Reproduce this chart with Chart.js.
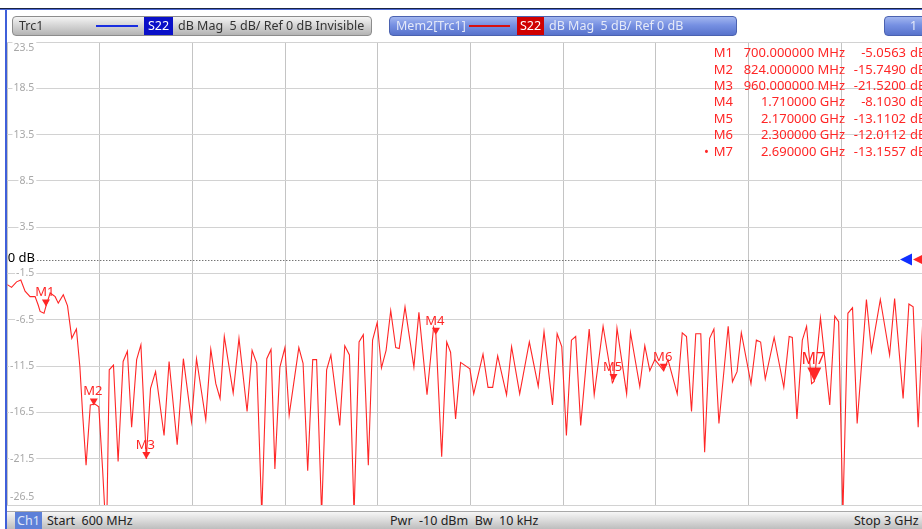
<!DOCTYPE html>
<html>
<head>
<meta charset="utf-8">
<script src="https://cdn.jsdelivr.net/npm/chart.js@4.4.0/dist/chart.umd.min.js"></script>
<style>
  body { margin: 0; background: #fff; font-family: "Noto Sans", sans-serif; }
  #wrap { position: relative; width: 922px; height: 529px; overflow: hidden; background: #fff; }
  #chart { position: absolute; left: 0; top: 0; }
  .topline { position: absolute; left: 0; top: 8px; width: 922px; height: 1px; background: #1b2442; }
  .topline2 { position: absolute; left: 0; top: 9px; width: 922px; height: 1px; background: #4a68d6; }
  .leftline { position: absolute; left: 5px; top: 10px; width: 2px; height: 519px; background: #3f5fd9; }
  .bar { position: absolute; top: 16px; height: 20px; border-radius: 4px; box-sizing: border-box;
         font-size: 12.5px; line-height: 18px; white-space: pre; }
  .bar span { position: absolute; top: 0; }
  .gray { left: 12px; width: 360px; border: 1px solid #8c8c8c; color: #333;
          background: linear-gradient(#f4f4f4, #d6d6d6 45%, #b4b4b4); }
  .blue { border: 1px solid #4b62b0; color: #e4e9f8;
          background: linear-gradient(#a2b6f0, #7690e2 45%, #5873cc); }
  .b2 { left: 389px; width: 348px; }
  .b3 { left: 884px; width: 50px; }
  .trline { height: 2px; top: 8px !important; }
  .box { height: 18px; color: #fff; text-align: center; }
  .bottom { position: absolute; left: 7px; top: 511px; width: 930px; height: 18px; font-size: 12.5px;
            line-height: 18px; color: #222; white-space: pre;
            background: linear-gradient(#f6f6f6, #dadada 50%, #bdbdbd); border-top: 1px solid #a8a8a8; box-sizing: border-box; }
  .bottom span { position: absolute; top: 0; }
  .ch { background: #5d80d8; color: #dfe6f8; height: 18px; }
</style>
</head>
<body>
<div id="wrap">
  <canvas id="chart" width="940" height="529"></canvas>
  <div class="topline"></div>
  <div class="topline2"></div>
  <div class="leftline"></div>

  <div class="bar gray">
    <span style="left:6px">Trc1</span>
    <span class="trline" style="left:83px;width:42px;background:#1a2ee0"></span>
    <span class="box" style="left:131px;width:29px;background:#0a10c8">S22</span>
    <span style="left:165px">dB Mag  5 dB/ Ref 0 dB Invisible</span>
  </div>
  <div class="bar blue b2">
    <span style="left:6px">Mem2[Trc1]</span>
    <span class="trline" style="left:79px;width:41px;background:#d81010"></span>
    <span class="box" style="left:127px;width:27px;background:#d00000">S22</span>
    <span style="left:159px">dB Mag  5 dB/ Ref 0 dB</span>
  </div>
  <div class="bar blue b3"><span style="left:25px">1</span></div>

  <div class="bottom">
    <span class="ch" style="left:8px;width:27px;text-align:center">Ch1</span>
    <span style="left:40px">Start  600 MHz</span>
    <span style="left:383px">Pwr  -10 dBm  Bw  10 kHz</span>
    <span style="left:847px">Stop 3 GHz</span>
  </div>
</div>

<script>
// Traza S22 (Mem2), frecuencia en MHz y magnitud en dB
const freqMHz = [
  600, 611, 624, 635, 646, 659, 672, 680, 685, 695,
  700, 711, 724, 732, 745, 756, 767, 779, 788, 795,
  804, 815, 827, 837, 847, 853, 858, 864, 875, 887,
  900, 911, 922, 935, 946, 960, 971, 984, 1006, 1019,
  1040, 1056, 1077, 1090, 1114, 1127, 1140, 1151, 1162, 1185,
  1200, 1221, 1234, 1246, 1259, 1272, 1283, 1293, 1306, 1319,
  1330, 1355, 1366, 1378, 1391, 1401, 1414, 1427, 1438, 1461,
  1474, 1486, 1498, 1511, 1522, 1535, 1546, 1558, 1569, 1581,
  1593, 1606, 1615, 1630, 1653, 1666, 1687, 1704, 1710, 1725,
  1738, 1748, 1761, 1774, 1798, 1808, 1832, 1845, 1857, 1870,
  1893, 1906, 1927, 1952, 1975, 1990, 2012, 2024, 2036, 2048,
  2061, 2072, 2085, 2107, 2120, 2143, 2167, 2170, 2179, 2204,
  2214, 2238, 2251, 2264, 2277, 2285, 2300, 2311, 2335, 2348,
  2359, 2372, 2383, 2396, 2406, 2419, 2430, 2443, 2467, 2478,
  2490, 2501, 2526, 2540, 2551, 2563, 2586, 2611, 2625, 2633,
  2645, 2659, 2670, 2683, 2690, 2706, 2730, 2743, 2753, 2764,
  2777, 2789, 2801, 2825, 2838, 2861, 2885, 2898, 2920, 2935,
  2946, 2959, 2971, 2989, 3000
];
const s22dB = [
  -2.7, -3.0, -2.4, -2.2, -3.4, -4.0, -4.0, -4.9, -5.6, -5.8,
  -5.06, -3.6, -4.0, -4.7, -3.8, -5.0, -8.5, -7.5, -11.6, -16.6,
  -22.2, -15.7, -15.6, -15.9, -22.8, -27.5, -27.5, -11.9, -11.4, -21.8,
  -11.0, -9.9, -18.1, -10.8, -9.2, -21.52, -13.9, -12.1, -19.0, -11.0,
  -20.0, -10.7, -17.5, -10.7, -17.3, -9.7, -13.4, -15.0, -8.3, -14.4,
  -8.5, -16.4, -9.8, -11.2, -27.5, -10.7, -9.7, -22.6, -11.6, -9.5,
  -16.8, -9.5, -11.2, -22.8, -10.8, -10.8, -27.5, -11.9, -10.3, -17.9,
  -9.3, -10.3, -27.5, -8.9, -8.1, -22.2, -8.7, -6.8, -11.7, -9.8,
  -5.5, -9.5, -9.6, -5.1, -11.6, -5.7, -14.6, -7.3, -8.10, -21.3,
  -8.9, -10.0, -17.2, -11.1, -11.8, -14.5, -10.2, -13.8, -13.8, -10.4,
  -14.6, -9.4, -14.5, -8.9, -13.7, -7.8, -15.7, -8.0, -9.4, -19.0,
  -8.7, -8.3, -17.9, -7.5, -14.6, -7.2, -13.3, -13.11, -7.4, -14.5,
  -7.9, -13.7, -9.3, -12.0, -10.8, -11.2, -12.01, -10.8, -14.5, -7.9,
  -8.3, -16.4, -8.0, -8.0, -20.8, -8.5, -7.5, -17.7, -7.2, -13.2,
  -12.1, -7.9, -13.4, -8.7, -8.9, -12.9, -8.4, -13.8, -8.3, -8.4,
  -17.2, -8.7, -7.2, -13.4, -13.16, -6.3, -15.7, -6.1, -6.7, -27.5,
  -5.8, -5.2, -17.7, -4.3, -9.9, -4.3, -10.3, -4.2, -15.0, -4.8,
  -5.1, -18.1, -6.5, -4.3, -8.0
];

// Marcadores
const markerNames = ['M1', 'M2', 'M3', 'M4', 'M5', 'M6', 'M7'];
const markerFreqs = [700, 824, 960, 1710, 2170, 2300, 2690];
const markerVals = [-5.0563, -15.7490, -21.5200, -8.1030, -13.1102, -12.0112, -13.1557];
const activeMarker = 'M7';

// Ejes
const xTicks = [600, 840, 1080, 1320, 1560, 1800, 2040, 2280, 2520, 2760, 3000];
const yTicks = [23.5, 18.5, 13.5, 8.5, 3.5, -1.5, -6.5, -11.5, -16.5, -21.5, -26.5];

const RED = '#ff2626';

function freqText(f) {
  return f < 1000 ? f.toFixed(6) + ' MHz' : (f / 1000).toFixed(6) + ' GHz';
}

const vnaPlugin = {
  id: 'vna',
  beforeDatasetsDraw(chart) {
    const { ctx, chartArea: a, scales: { y } } = chart;
    ctx.save();
    ctx.font = '10.5px "Noto Sans"';
    ctx.textBaseline = 'middle';
    ctx.textAlign = 'right';
    yTicks.forEach((v, i) => {
      let py = y.getPixelForValue(v);
      if (i === 0) py += 6;
      if (i === yTicks.length - 1) py -= 8;
      const label = v.toFixed(1);
      const w = ctx.measureText(label).width;
      ctx.fillStyle = '#fff';
      ctx.fillRect(a.left + 27 - w - 1, py - 6, w + 3, 12);
      ctx.fillStyle = '#a8a8a8';
      ctx.fillText(label, a.left + 27, py);
    });

    // línea de referencia 0 dB
    const y0 = y.getPixelForValue(0);
    ctx.strokeStyle = '#3a3a3a';
    ctx.lineWidth = 1;
    ctx.setLineDash([1, 2]);
    ctx.beginPath();
    ctx.moveTo(a.left + 30, Math.round(y0) + 0.5);
    ctx.lineTo(900, Math.round(y0) + 0.5);
    ctx.stroke();
    ctx.setLineDash([]);
    ctx.fillStyle = '#000';
    ctx.font = '13px "Noto Sans"';
    ctx.textAlign = 'left';
    ctx.fillText('0 dB', a.left + 0.5, y0 - 1);

    // indicadores de referencia a la derecha
    [['#1030ff', 900], [RED, 913]].forEach(([c, x0]) => {
      ctx.fillStyle = c;
      ctx.beginPath();
      ctx.moveTo(x0, y0);
      ctx.lineTo(x0 + 12, y0 - 6);
      ctx.lineTo(x0 + 12, y0 + 6);
      ctx.closePath();
      ctx.fill();
    });
    ctx.restore();
  },
  afterDatasetsDraw(chart) {
    const { ctx, scales: { x, y } } = chart;
    ctx.save();
    ctx.fillStyle = RED;
    ctx.textAlign = 'center';
    ctx.textBaseline = 'alphabetic';

    // triángulos de marcador sobre la traza
    markerNames.forEach((name, i) => {
      const px = x.getPixelForValue(markerFreqs[i]);
      const py = y.getPixelForValue(markerVals[i]);
      const big = name === activeMarker;
      const hw = big ? 7 : 4;
      const h = big ? 14 : 7;
      ctx.beginPath();
      ctx.moveTo(px, py);
      ctx.lineTo(px - hw, py - h);
      ctx.lineTo(px + hw, py - h);
      ctx.closePath();
      ctx.fill();
      ctx.font = (big ? '16px' : '13px') + ' "Noto Sans"';
      ctx.fillText(name, px - 1, py - h - 3);
    });

    // tabla de marcadores
    ctx.font = '13px "Noto Sans"';
    ctx.textBaseline = 'middle';
    markerNames.forEach((name, i) => {
      const ty = 53.5 + i * 16.4;
      ctx.textAlign = 'right';
      ctx.fillText(name, 733, ty);
      ctx.fillText(freqText(markerFreqs[i]), 845, ty);
      ctx.fillText(markerVals[i].toFixed(4), 906, ty);
      ctx.textAlign = 'left';
      ctx.fillText('dB', 910, ty);
      if (name === activeMarker) ctx.fillText('•', 704, ty);
    });
    ctx.restore();
  }
};

const ctx = document.getElementById('chart').getContext('2d');
const chart = new Chart(ctx, {
  type: 'line',
  data: {
    datasets: [{
      label: 'Mem2[Trc1] S22',
      data: freqMHz.map((f, i) => ({ x: f, y: s22dB[i] })),
      borderColor: RED,
      borderWidth: 1.1,
      pointRadius: 0,
      tension: 0
    }]
  },
  options: {
    responsive: false,
    animation: false,
    events: [],
    layout: { padding: { left: 7.3, top: 42, right: 6, bottom: 24 } },
    plugins: { legend: { display: false }, tooltip: { enabled: false } },
    scales: {
      x: {
        type: 'linear',
        min: 600,
        max: 3000,
        afterBuildTicks: (scale) => { scale.ticks = xTicks.map(v => ({ value: v })); },
        ticks: { display: false },
        grid: { color: '#c4c4c4', drawTicks: false },
        border: { display: false }
      },
      y: {
        min: -26.5,
        max: 23.5,
        afterBuildTicks: (scale) => { scale.ticks = yTicks.map(v => ({ value: v })); },
        ticks: { display: false },
        grid: { color: '#d2d2d2', drawTicks: false },
        border: { display: false }
      }
    }
  },
  plugins: [vnaPlugin]
});
</script>
</body>
</html>
